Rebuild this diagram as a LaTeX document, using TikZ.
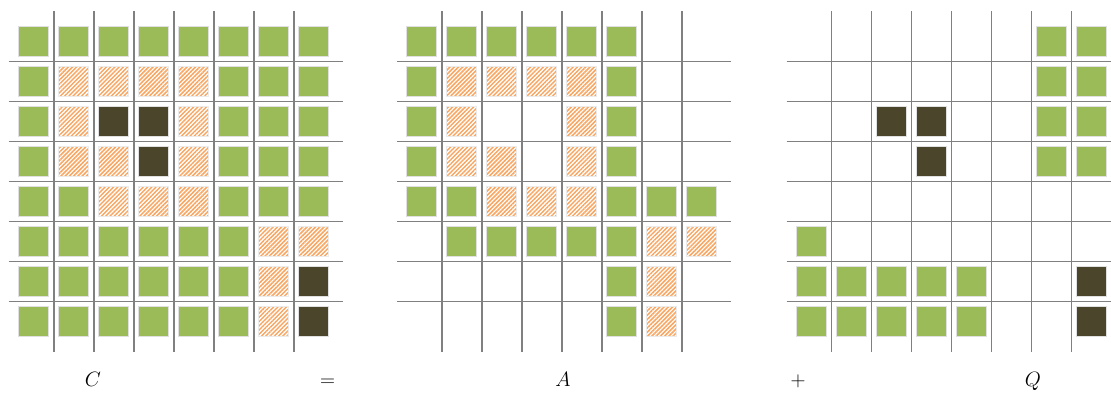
\documentclass[tikz,border=0pt]{standalone}
\usetikzlibrary{patterns.meta}
\definecolor{cgreen}{RGB}{155,187,89}
\definecolor{cdark}{RGB}{74,69,43}
\definecolor{corange}{RGB}{247,150,70}
\definecolor{gridgray}{RGB}{128,128,128}
\tikzset{
  gline/.style={draw=gridgray, line width=1.9pt},
  gcell/.style={fill=cgreen, draw=black!12, line width=0.8pt},
  dcell/.style={fill=cdark, draw=black!12, line width=0.8pt},
  hcell/.style={pattern={Lines[angle=45,distance=3pt,line width=1.5pt]}, pattern color=corange!85, draw=black!8, line width=0.8pt},
  lbl/.style={anchor=base, font=\fontsize{22}{26}\selectfont}
}
\newcommand\gridlines[1]{%
  \foreach \i in {1,...,7}{%
    \draw[gline] ({#1+40*\i},11) -- ({#1+40*\i},352);
    \draw[gline] ({#1-5},{21.5+40*\i}) -- ({#1+329},{21.5+40*\i});
  }}
\newcommand\mycell[1]{%
  \ifx#1G\path[gcell] ({\gx+40*\gc+5},{21.5+40*\gr+5}) rectangle ++(30,30);\fi
  \ifx#1D\path[dcell] ({\gx+40*\gc+5},{21.5+40*\gr+5}) rectangle ++(30,30);\fi
  \ifx#1H\path[hcell] ({\gx+40*\gc+5},{21.5+40*\gr+5}) rectangle ++(30,30);\fi
}
\def\parsecells#1{\ifx#1\relax\else\mycell{#1}\pgfmathtruncatemacro\gc{\gc+1}\expandafter\parsecells\fi}
\newcommand\cellrow[3]{\def\gx{#1}\def\gr{#2}\def\gc{0}\parsecells#3\relax}
\begin{document}
\begin{tikzpicture}[x=1pt,y=-1pt]
\useasboundingbox (0,0) rectangle (1111,394);
% grid C
\gridlines{13.7}
\cellrow{13.7}{0}{GGGGGGGG}
\cellrow{13.7}{1}{GHHHHGGG}
\cellrow{13.7}{2}{GHDDHGGG}
\cellrow{13.7}{3}{GHHDHGGG}
\cellrow{13.7}{4}{GGHHHGGG}
\cellrow{13.7}{5}{GGGGGGHH}
\cellrow{13.7}{6}{GGGGGGHD}
\cellrow{13.7}{7}{GGGGGGHD}
% grid A
\gridlines{401.8}
\cellrow{401.8}{0}{GGGGGG..}
\cellrow{401.8}{1}{GHHHHG..}
\cellrow{401.8}{2}{GH..HG..}
\cellrow{401.8}{3}{GHH.HG..}
\cellrow{401.8}{4}{GGHHHGGG}
\cellrow{401.8}{5}{.GGGGGHH}
\cellrow{401.8}{6}{.....GH.}
\cellrow{401.8}{7}{.....GH.}
% grid Q
\gridlines{791.5}
\cellrow{791.5}{0}{......GG}
\cellrow{791.5}{1}{......GG}
\cellrow{791.5}{2}{..DD..GG}
\cellrow{791.5}{3}{...D..GG}
\cellrow{791.5}{4}{........}
\cellrow{791.5}{5}{G.......}
\cellrow{791.5}{6}{GGGGG..D}
\cellrow{791.5}{7}{GGGGG..D}
% labels
\node[lbl] (lc) at (93,386.5) {$C$};
\node[lbl] (leq) at (327.5,386.5) {$=$};
\node[lbl] (la) at (563,386.5) {$A$};
\node[lbl] (lp) at (798,386.5) {$+$};
\node[lbl] (lq) at (1033,386.5) {$Q$};
\end{tikzpicture}
\end{document}
